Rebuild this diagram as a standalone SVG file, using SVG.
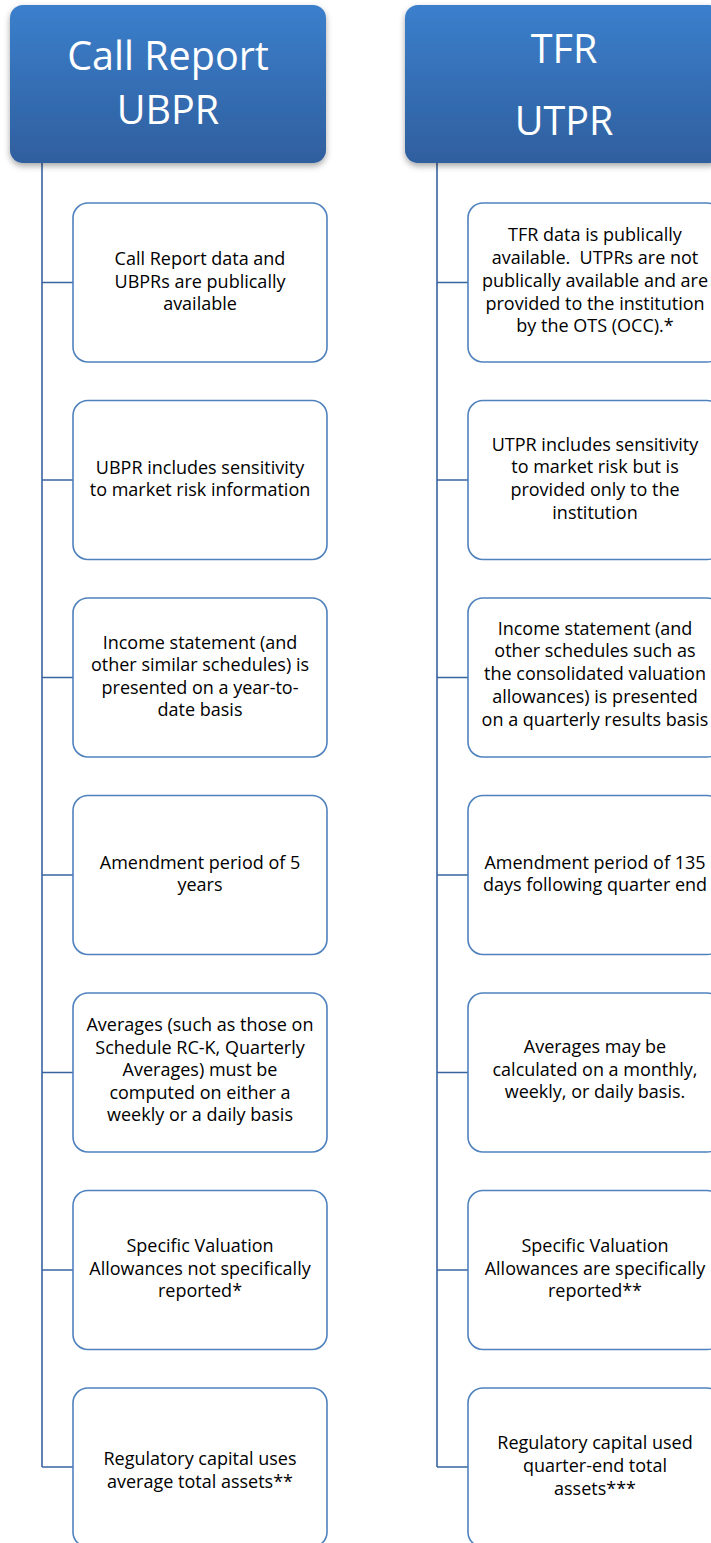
<svg xmlns="http://www.w3.org/2000/svg" width="711" height="1543" viewBox="0 0 711 1543">
<style>
.hdr{fill:url(#g);filter:url(#sh)}
.box{fill:#fff;stroke:#4f81bd;stroke-width:1.6}
.ht{font-family:"Open Sans",Lato,sans-serif;font-size:39.5px;fill:#fff;text-anchor:middle}
.bt{font-family:"Open Sans",Lato,sans-serif;font-size:18px;fill:#000;text-anchor:middle;white-space:pre}
.ln{fill:none;stroke:#3a64a0;stroke-width:1.6}
</style>
<defs>
<linearGradient id="g" x1="0" y1="0" x2="0" y2="1">
<stop offset="0" stop-color="#3b7fcc"/>
<stop offset="1" stop-color="#2f5f9e"/>
</linearGradient>
<filter id="sh" x="-10%" y="-10%" width="120%" height="130%">
<feGaussianBlur in="SourceAlpha" stdDeviation="3"/>
<feOffset dy="3" result="b"/>
<feFlood flood-color="#000" flood-opacity="0.35"/>
<feComposite in2="b" operator="in"/>
<feMerge><feMergeNode/><feMergeNode in="SourceGraphic"/></feMerge>
</filter>
</defs>
<g id="connectors">
<path class="ln" d="M42,163 V1467 M42,282.5 H73 M42,480 H73 M42,677.5 H73 M42,875 H73 M42,1072.5 H73 M42,1270 H73 M42,1467 H73"/>
<path class="ln" d="M437,163 V1467 M437,282.5 H468 M437,480 H468 M437,677.5 H468 M437,875 H468 M437,1072.5 H468 M437,1270 H468 M437,1467 H468"/>
</g>
<g id="hdr-left"><rect class="hdr" x="10" y="5" width="316" height="158" rx="13"/>
<text class="ht" x="168" y="70">Call Report</text><text class="ht" x="168" y="124">UBPR</text></g>
<g id="hdr-right"><rect class="hdr" x="405" y="5" width="317" height="158" rx="13"/>
<text class="ht" x="564" y="63">TFR</text><text class="ht" x="564" y="135">UTPR</text></g>

<g id="l1"><rect class="box" x="73" y="203" width="254" height="159" rx="15"/>
<text class="bt" x="200" y="265">Call Report data and</text><text class="bt" x="200" y="287.5">UBPRs are publically</text><text class="bt" x="200" y="310">available</text></g>
<g id="l2"><rect class="box" x="73" y="400.5" width="254" height="159" rx="15"/>
<text class="bt" x="200" y="473.5">UBPR includes sensitivity</text><text class="bt" x="200" y="496">to market risk information</text></g>
<g id="l3"><rect class="box" x="73" y="598" width="254" height="159" rx="15"/>
<text class="bt" x="200" y="648.5">Income statement (and</text><text class="bt" x="200" y="671">other similar schedules) is</text><text class="bt" x="200" y="693.5">presented on a year-to-</text><text class="bt" x="200" y="716">date basis</text></g>
<g id="l4"><rect class="box" x="73" y="795.5" width="254" height="159" rx="15"/>
<text class="bt" x="200" y="868.5">Amendment period of 5</text><text class="bt" x="200" y="891">years</text></g>
<g id="l5"><rect class="box" x="73" y="993" width="254" height="159" rx="15"/>
<text class="bt" x="200" y="1031">Averages (such as those on</text><text class="bt" x="200" y="1053.5">Schedule RC-K, Quarterly</text><text class="bt" x="200" y="1076">Averages) must be</text><text class="bt" x="200" y="1098.5">computed on either a</text><text class="bt" x="200" y="1121">weekly or a daily basis</text></g>
<g id="l6"><rect class="box" x="73" y="1190.5" width="254" height="159" rx="15"/>
<text class="bt" x="200" y="1252">Specific Valuation</text><text class="bt" x="200" y="1274.5">Allowances not specifically</text><text class="bt" x="200" y="1297">reported*</text></g>
<g id="l7"><rect class="box" x="73" y="1388" width="254" height="159" rx="15"/>
<text class="bt" x="200" y="1465">Regulatory capital uses</text><text class="bt" x="200" y="1487.5">average total assets**</text></g>

<g id="r1"><rect class="box" x="468" y="203" width="254" height="159" rx="15"/>
<text class="bt" x="595" y="241">TFR data is publically</text><text class="bt" x="595" y="264">available.  UTPRs are not</text><text class="bt" x="595" y="287">publically available and are</text><text class="bt" x="595" y="309.5">provided to the institution</text><text class="bt" x="595" y="332">by the OTS (OCC).*</text></g>
<g id="r2"><rect class="box" x="468" y="400.5" width="254" height="159" rx="15"/>
<text class="bt" x="595" y="450.5">UTPR includes sensitivity</text><text class="bt" x="595" y="473">to market risk but is</text><text class="bt" x="595" y="496">provided only to the</text><text class="bt" x="595" y="518.5">institution</text></g>
<g id="r3"><rect class="box" x="468" y="598" width="254" height="159" rx="15"/>
<text class="bt" x="595" y="634.5">Income statement (and</text><text class="bt" x="595" y="657">other schedules such as</text><text class="bt" x="595" y="680">the consolidated valuation</text><text class="bt" x="595" y="703">allowances) is presented</text><text class="bt" x="595" y="725.5">on a quarterly results basis</text></g>
<g id="r4"><rect class="box" x="468" y="795.5" width="254" height="159" rx="15"/>
<text class="bt" x="595" y="868.5">Amendment period of 135</text><text class="bt" x="595" y="891">days following quarter end</text></g>
<g id="r5"><rect class="box" x="468" y="993" width="254" height="159" rx="15"/>
<text class="bt" x="595" y="1053">Averages may be</text><text class="bt" x="595" y="1075.5">calculated on a monthly,</text><text class="bt" x="595" y="1098">weekly, or daily basis.</text></g>
<g id="r6"><rect class="box" x="468" y="1190.5" width="254" height="159" rx="15"/>
<text class="bt" x="595" y="1252">Specific Valuation</text><text class="bt" x="595" y="1274.5">Allowances are specifically</text><text class="bt" x="595" y="1297">reported**</text></g>
<g id="r7"><rect class="box" x="468" y="1388" width="254" height="159" rx="15"/>
<text class="bt" x="595" y="1449">Regulatory capital used</text><text class="bt" x="595" y="1472">quarter-end total</text><text class="bt" x="595" y="1495">assets***</text></g>
</svg>
